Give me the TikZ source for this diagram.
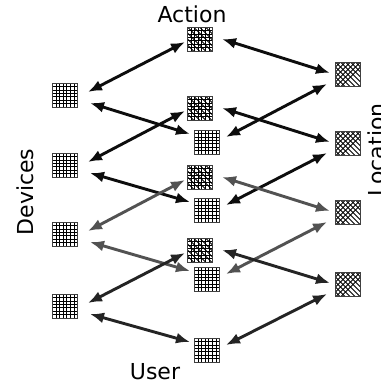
\documentclass[tikz,border=0pt]{standalone}
\usepackage{fontspec}
\setmainfont{DejaVu Sans}
\usetikzlibrary{arrows.meta,calc}
\newcommand\mygridlines{%
  \foreach \k in {1,...,6}{%
    \draw[black,line width=0.7pt] ([xshift=\k*25pt/7]path picture bounding box.north west) -- ++(0pt,-24pt);
    \draw[black,line width=0.7pt] ([yshift=-\k*24pt/7]path picture bounding box.north west) -- ++(25pt,0pt);
  }}
\newcommand\mydiaglines{%
  \foreach \k in {-30,-24,...,30}{%
    \draw[black,line width=0.9pt] ([xshift=\k pt]path picture bounding box.north west) -- ++(30pt,-30pt);
  }}
\newcommand\mycrosslines{%
  \foreach \k in {-30,-25,...,30}{%
    \draw[black,line width=0.8pt] ([xshift=\k pt]path picture bounding box.north west) -- ++(30pt,-30pt);
    \draw[black,line width=0.8pt] ([xshift=\k pt]path picture bounding box.north west) -- ++(-30pt,-30pt);
  }}
\begin{document}
\begin{tikzpicture}[x=1pt,y=-1pt,
  box/.style={minimum width=25pt,minimum height=24pt,inner sep=0pt,outer sep=0pt,draw=black!75,line width=0.9pt,fill=white},
  devbox/.style={box,path picture={\mygridlines}},
  actbox/.style={box,path picture={\mygridlines\mydiaglines}},
  locbox/.style={box,path picture={\mycrosslines}},
  arr/.style={{Latex[length=14pt,width=11pt]}-{Latex[length=14pt,width=11pt]},line width=2.9pt},
  lab/.style={font=\fontsize{22}{26}\selectfont,inner sep=0pt,anchor=base}
]
\clip (0,0) rectangle (380,388);
\fill[white] (0,0) rectangle (380,388);

% nodes
\foreach \i/\yd/\ya/\ym/\yl in {1/95/39/142/74, 2/165/108/210/143, 3/234/177/279/212, 4/306/250/350/284}{
  \node[devbox] (D\i) at (65,\yd) {};
  \node[actbox] (A\i) at (200,\ya) {};
  \node[devbox] (M\i) at (207,\ym) {};
  \node[locbox] (L\i) at (348,\yl) {};
}

% labels
\node[lab] (act) at (192,23) {Action};
\node[lab] (usr) at (155,379) {User};
\node[lab,rotate=90] (dev) at (33,192) {Devices};
\node[lab,rotate=90] (loc) at (384,150) {Location};

% arrows
\foreach \i/\c in {1/black!95, 2/black!95, 3/black!68, 4/black!86}{
  \draw[arr,\c] ([shift={(23,-3)}]D\i.center) -- ([shift={(-15,3)}]A\i.center);
  \draw[arr,\c] ([shift={(25,8)}]D\i.center) -- ([shift={(-17,-8)}]M\i.center);
  \draw[arr,\c] ([shift={(22,0)}]A\i.center) -- ([shift={(-18,-1)}]L\i.center);
  \draw[arr,\c] ([shift={(19,-5)}]M\i.center) -- ([shift={(-21,10)}]L\i.center);
}
\end{tikzpicture}
\end{document}
